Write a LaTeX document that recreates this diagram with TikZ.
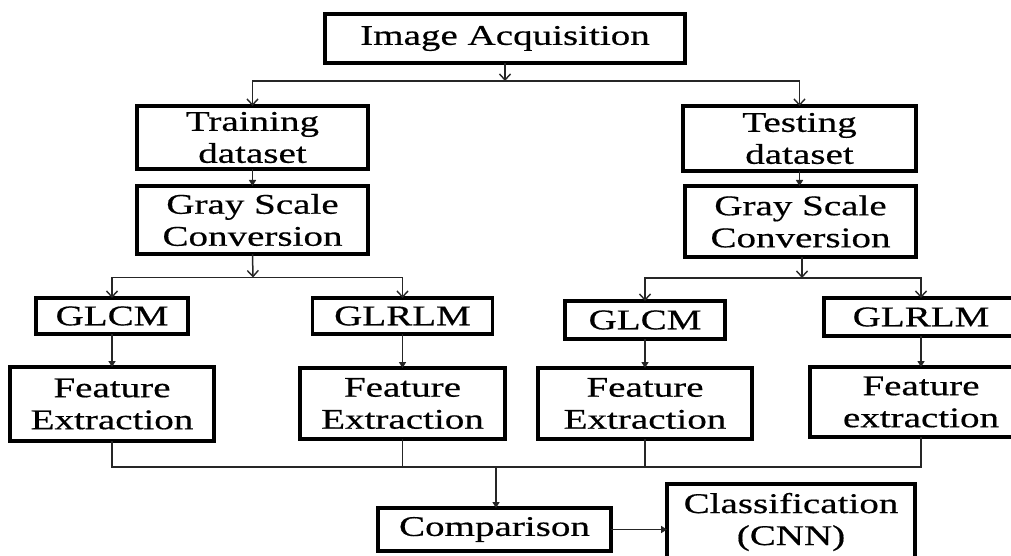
\documentclass[tikz,border=0pt]{standalone}
\usepackage{fontspec}
\setmainfont[FakeStretch=1.37,FakeBold=0.5]{Liberation Serif}
\usetikzlibrary{arrows.meta}
\begin{document}
\begin{tikzpicture}[x=1pt,y=-1pt,
  box/.style={draw=black,line width=3.2pt,rectangle,inner sep=0pt,outer sep=0pt,align=center,
    font=\fontsize{28.5}{32}\selectfont},
  conn/.style={line width=1.5pt,draw=black!85},
  oarrow/.style={conn,-{Straight Barb[length=6pt,width=11pt,line width=1.4pt]}},
  farrow/.style={conn,-{Triangle[length=6pt,width=7pt]}}]
\useasboundingbox[fill=white] (0,0) rectangle (1011,556);
\node[box,minimum width=360pt,minimum height=49pt] (acq) at (505,38.5) {Image Acquisition};
\node[box,minimum width=231pt,minimum height=63pt] (train) at (252.5,137.5) {Training\\dataset};
\node[box,minimum width=231pt,minimum height=68pt] (gray1) at (252.5,220) {Gray Scale\\Conversion};
\node[box,minimum width=233pt,minimum height=65pt] (test) at (799.5,138.5) {Testing\\dataset};
\node[box,minimum width=231pt,minimum height=71pt] (gray2) at (800.5,221.5) {Gray Scale\\Conversion};
\node[box,minimum width=152pt,minimum height=36pt] (glcm1) at (112,316) {GLCM};
\node[box,minimum width=180pt,minimum height=36pt] (glrlm1) at (402.5,316) {GLRLM};
\node[box,minimum width=204pt,minimum height=74pt] (fe1) at (112,404) {Feature\\Extraction};
\node[box,minimum width=205pt,minimum height=71pt] (fe2) at (402.5,403.5) {Feature\\Extraction};
\node[box,minimum width=160pt,minimum height=38pt] (glcm2) at (645,320) {GLCM};
\node[box,minimum width=194pt,minimum height=38pt] (glrlm2) at (921,317) {GLRLM};
\node[box,minimum width=214pt,minimum height=71pt] (fe3) at (645,403.5) {Feature\\Extraction};
\node[box,minimum width=222pt,minimum height=70pt] (fe4) at (921,402) {Feature\\extraction};
\node[box,minimum width=233pt,minimum height=43pt] (comp) at (494.5,529.5) {Comparison};
\node[box,minimum width=248pt,minimum height=76pt] (cls) at (791,522) {Classification\\(CNN)};
\coordinate (j1) at (505,81);
\coordinate (j2) at (253,277.5);
\coordinate (j3) at (802,278);
\coordinate (busL) at (112,467);
\coordinate (busR) at (921,467);
\coordinate (busM) at (496,467);
\draw[oarrow] (acq.south) -- (j1);
\draw[oarrow] (j1) -| (train.north);
\draw[oarrow] (j1) -| (test.north);
\draw[farrow] (train) -- (gray1);
\draw[farrow] (test.south) -- (test.south |- gray2.north);
\draw[oarrow] (gray1.south) -- (j2);
\draw[oarrow] (j2) -| (glcm1.north);
\draw[oarrow] (j2) -| (glrlm1.north);
\draw[oarrow] (gray2.south -| j3) -- (j3);
\draw[oarrow] (j3) -| (glcm2.north);
\draw[oarrow] (j3) -| (glrlm2.north);
\draw[farrow] (glcm1) -- (fe1);
\draw[farrow] (glrlm1) -- (fe2);
\draw[farrow] (glcm2) -- (fe3);
\draw[farrow] (glrlm2) -- (fe4);
\draw[conn] (fe1.south) -- (busL) -- (busR) -- (fe4.south);
\draw[conn] (fe2.south) -- (fe2.south |- busL);
\draw[conn] (fe3.south) -- (fe3.south |- busL);
\draw[farrow] (busM) -- (busM |- comp.north);
\draw[farrow] (comp.east) -- (comp.east -| cls.west);
\end{tikzpicture}
\end{document}
